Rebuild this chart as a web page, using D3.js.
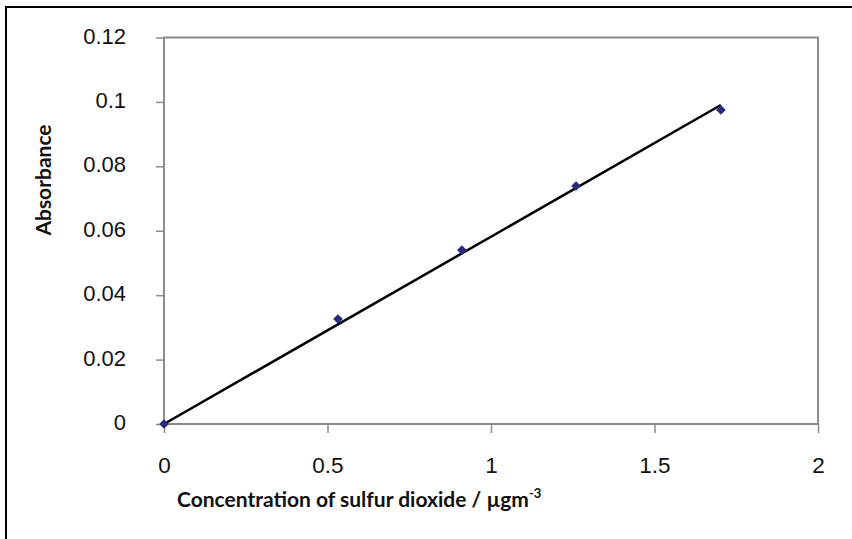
<!DOCTYPE html>
<html>
<head>
<meta charset="utf-8">
<script src="https://cdnjs.cloudflare.com/ajax/libs/d3/7.8.5/d3.min.js"></script>
<style>
  body { margin: 0; background: #fff; }
  svg { display: block; }
</style>
</head>
<body>
<div id="chart"></div>
<script>
// === Data ===
var concentration = [0, 0.532, 0.911, 1.26, 1.703];
var absorbance = [0, 0.0326, 0.054, 0.0739, 0.0975];
var xTicks = [0, 0.5, 1, 1.5, 2];
var yTicks = [0, 0.02, 0.04, 0.06, 0.08, 0.1, 0.12];

// === Chart ===
var width = 852, height = 539;
var plotLeft = 164, plotRight = 818, plotTop = 37.5, plotBottom = 424;

var svg = d3.select("#chart").append("svg")
    .attr("width", width)
    .attr("height", height);

// outer frame (left + top edges visible)
svg.append("rect")
    .attr("x", 6).attr("y", 7)
    .attr("width", width).attr("height", height)
    .attr("fill", "none")
    .attr("stroke", "#000")
    .attr("stroke-width", 2);

var x = d3.scaleLinear().domain([0, 2]).range([plotLeft, plotRight]);
var y = d3.scaleLinear().domain([0, 0.12]).range([plotBottom, plotTop]);

// plot frame
svg.append("rect")
    .attr("x", plotLeft).attr("y", plotTop)
    .attr("width", plotRight - plotLeft).attr("height", plotBottom - plotTop)
    .attr("fill", "none")
    .attr("stroke", "#8c8c8c")
    .attr("stroke-width", 2);

// x axis
var xAxis = svg.append("g")
    .attr("transform", "translate(0," + plotBottom + ")")
    .call(d3.axisBottom(x).tickValues(xTicks).tickSize(9).tickPadding(24)
        .tickFormat(function (d) { return d; }));
xAxis.select(".domain").remove();
xAxis.selectAll("line").attr("stroke", "#8c8c8c").attr("stroke-width", 1.5);
xAxis.selectAll("text")
    .attr("font-family", "Liberation Sans, Arial, sans-serif")
    .attr("font-size", 22.5)
    .attr("fill", "#111");

// y axis
var yAxis = svg.append("g")
    .attr("transform", "translate(" + plotLeft + ",0)")
    .call(d3.axisLeft(y).tickValues(yTicks).tickSize(8).tickPadding(30)
        .tickFormat(function (d) { return d; }));
yAxis.select(".domain").remove();
yAxis.selectAll("line").attr("stroke", "#8c8c8c").attr("stroke-width", 1.5);
yAxis.selectAll("text")
    .attr("font-family", "Liberation Sans, Arial, sans-serif")
    .attr("font-size", 22)
    .attr("fill", "#111")
    .attr("dy", "0.25em");

// trend line: least squares through the origin
var sxy = d3.sum(concentration, function (c, i) { return c * absorbance[i]; });
var sxx = d3.sum(concentration, function (c) { return c * c; });
var slope = sxy / sxx;
var xMax = d3.max(concentration);

svg.append("line")
    .attr("x1", x(0)).attr("y1", y(0))
    .attr("x2", x(xMax)).attr("y2", y(slope * xMax))
    .attr("stroke", "#000")
    .attr("stroke-width", 2.5);

// markers
svg.selectAll(".pt")
    .data(concentration)
    .enter()
    .append("path")
    .attr("class", "pt")
    .attr("d", d3.symbol().type(d3.symbolDiamond2).size(60))
    .attr("transform", function (d, i) { return "translate(" + x(d) + "," + y(absorbance[i]) + ")"; })
    .attr("fill", "#2b2b80");

// axis titles
var xt = svg.append("text")
    .attr("x", 177).attr("y", 507)
    .attr("font-family", "Lato, Open Sans, sans-serif")
    .attr("font-weight", "bold")
    .attr("font-size", 21)
    .attr("fill", "#111")
    .text("Concentration of sulfur dioxide / µgm");
xt.append("tspan")
    .attr("dy", -9)
    .attr("font-size", 13)
    .text("-3");

svg.append("text")
    .attr("transform", "translate(51,180) rotate(-90)")
    .attr("text-anchor", "middle")
    .attr("font-family", "Lato, Open Sans, sans-serif")
    .attr("font-weight", "bold")
    .attr("font-size", 21)
    .attr("fill", "#111")
    .text("Absorbance");
</script>
</body>
</html>
